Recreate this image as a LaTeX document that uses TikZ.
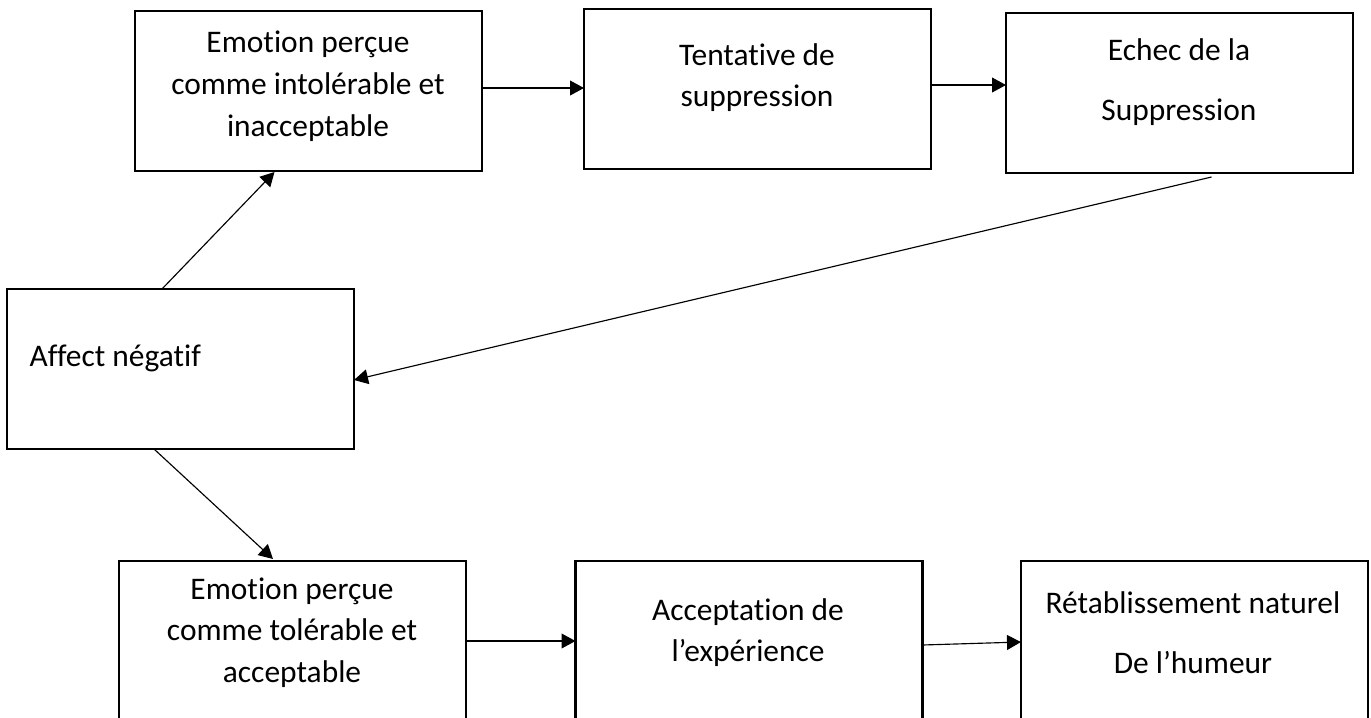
\documentclass[tikz,border=0pt]{standalone}
\usepackage{fontspec}
\setmainfont{Carlito}[Ligatures={NoCommon}]
\usetikzlibrary{arrows.meta,calc}
\begin{document}
\begin{tikzpicture}[x=0.35pt,y=-0.35pt,
  box/.style={draw, line width=0.75pt, minimum width=347*0.35pt, minimum height=160*0.35pt, inner sep=0pt, outer sep=0pt},
  lbl/.style={font=\fontsize{11pt}{14.6pt}\selectfont, align=center, inner sep=0pt},
  wide/.style={font=\fontsize{11pt}{21pt}\selectfont, align=center, inner sep=0pt},
  arr/.style={line width=0.4pt, -{Triangle[length=4.9pt,width=5.2pt]}},
  ]
\useasboundingbox (0,0) rectangle (1371,717);
\clip (0,0) rectangle (1371,717);
% boxes
\node[box] (b1) at (308.5,91) {};
\node[box] (b2) at (757.5,89) {};
\node[box] (b3) at (1179.5,93) {};
\node[box] (b4) at (180.5,369) {};
\node[box] (b5) at (292.5,641) {};
\node[box] (b6) at (749,641) {};
\node[box] (b7) at (1194.5,641) {};
% texts
\node[lbl] (t1) at (308,86) {Emotion perçue\\comme intolérable et\\inacceptable};
\node[lbl] (t2) at (757,77.5) {Tentative de\\suppression};
\node[wide] (t3) at (1179,82.5) {Echec de la\\Suppression};
\node[lbl, anchor=west] (t4) at (29,358) {Affect négatif};
\node[lbl] (t5) at (292,632.5) {Emotion perçue\\comme tolérable et\\acceptable};
\node[lbl] (t6) at (748,632.5) {Acceptation de\\l’expérience};
\node[wide] (t7) at (1193,632.5) {Rétablissement naturel\\De l’humeur};
% connectors
\coordinate (s3) at ($(b3.south)+(32,4)$);
\draw[arr] ($(b1.east)+(0,-3)$) -- ($(b2.west)+(0,-1)$);
\draw[arr] ($(b2.east)+(0,-4)$) -- ($(b3.west)+(0,-8)$);
\draw[arr] (s3) -- ($(b4.east)+(0,11)$);
\draw[arr] ($(b4.north)+(-18.5,0)$) -- ($(b1.south)+(-34,1)$);
\draw[arr] ($(b4.south)+(-26.5,0)$) -- ($(b5.north)+(-19.5,-2)$);
\draw[arr] (b5.east) -- (b6.west);
\draw[arr] ($(b6.east)+(0,4)$) -- ($(b7.west)+(0,1)$);
\end{tikzpicture}
\end{document}
